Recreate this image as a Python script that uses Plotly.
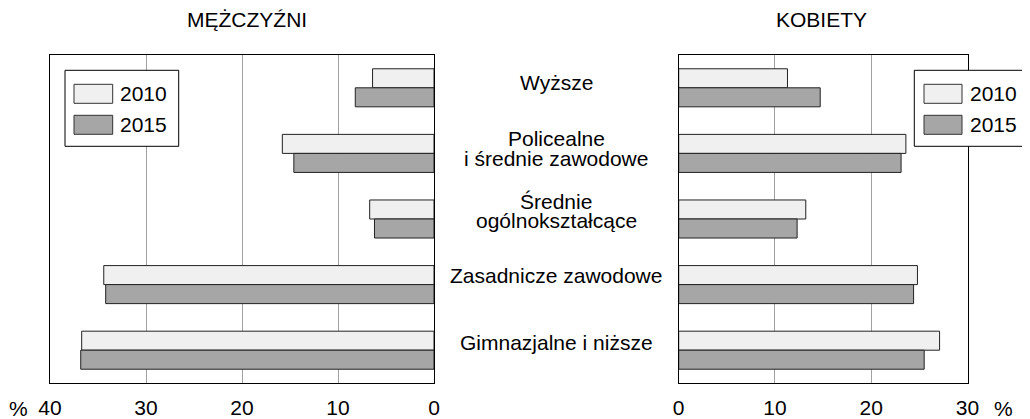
import plotly.graph_objects as go

categories = ["Wyższe", "Policealne<br>i średnie zawodowe", "Średnie<br>ogólnokształcące",
              "Zasadnicze zawodowe", "Gimnazjalne i niższe"]
cat_keys = ["Wyższe", "Policealne", "Średnie", "Zasadnicze", "Gimnazjalne"]
men_2010 = [6.4, 15.8, 6.7, 34.4, 36.7]
men_2015 = [8.2, 14.6, 6.2, 34.2, 36.8]
women_2010 = [11.3, 23.6, 13.2, 24.8, 27.1]
women_2015 = [14.7, 23.1, 12.3, 24.4, 25.5]
years = ["2010", "2015"]
men_ticks = [0, 10, 20, 30, 40]
women_ticks = [0, 10, 20, 30]

# label line offsets above category centre (px)
label_shifts = [[5.5], [14.7, -5.3], [17.5, -1.5], [9.5], [8.2]]

# page body has an 8px margin; lay out in page pixels and shift
OFF = 8
W, H = 1030 - OFF, 419 - OFF
FONT = "Liberation Sans, Arial, sans-serif"
FS = 21
C2010 = "#f0f0f0"
C2015 = "#a6a6a6"
EDGE = "#222222"

def px(x):
    return (x - OFF) / W

def py(y):
    return 1 - (y - OFF) / H

fig = go.Figure()
for vals, col, name, xa in [(men_2010, C2010, "2010", "x"), (men_2015, C2015, "2015", "x"),
                            (women_2010, C2010, "2010", "x2"), (women_2015, C2015, "2015", "x2")]:
    fig.add_trace(go.Bar(x=vals, y=cat_keys, orientation="h", name=name,
                         marker=dict(color=col, line=dict(color=EDGE, width=1)),
                         xaxis=xa, yaxis="y" if xa == "x" else "y2",
                         offsetgroup=name, showlegend=False))

axis_common = dict(showline=True, mirror=True, linecolor="#000000", linewidth=1,
                   showgrid=True, gridcolor="#a0a0a0", gridwidth=1, zeroline=False,
                   ticks="outside", ticklen=6, tickcolor="rgba(0,0,0,0)", automargin=False,
                   tickfont=dict(family=FONT, size=FS, color="#000000"), fixedrange=True)
yaxis_common = dict(domain=[py(383), py(55)], type="category", categoryorder="array",
                    categoryarray=cat_keys, range=[4.5, -0.5], showticklabels=False,
                    showgrid=False, showline=True, mirror=True, linecolor="#000000", linewidth=1,
                    zeroline=False, ticks="", automargin=False, fixedrange=True)
fig.update_layout(
    template="none",
    width=W, height=H, margin=dict(l=0, r=0, t=0, b=0, pad=0),
    paper_bgcolor="white", plot_bgcolor="white",
    barmode="group", bargap=0.42, bargroupgap=0,
    xaxis=dict(domain=[px(50), px(434)], range=[40, 0], tickvals=men_ticks, anchor="y", **axis_common),
    xaxis2=dict(domain=[px(678.7), px(967.5)], range=[0, 30], tickvals=women_ticks, anchor="y2", **axis_common),
    yaxis=dict(anchor="x", **yaxis_common),
    yaxis2=dict(anchor="x2", **yaxis_common),
    showlegend=False,
)

def text_ann(x, y, text, xanchor="center"):
    return dict(x=px(x), y=py(y), xref="paper", yref="paper", text=text, showarrow=False,
                xanchor=xanchor, yanchor="middle", borderpad=0,
                font=dict(family=FONT, size=FS, color="#000000"))

ann = []
for key, lab, shifts in zip(cat_keys, categories, label_shifts):
    for line, sh in zip(lab.split("<br>"), shifts):
        ann.append(dict(x=px(556), xref="paper", y=key, yref="y", text=line, showarrow=False,
                        xanchor="center", yanchor="middle", borderpad=0,
                        font=dict(family=FONT, size=FS, color="#000000"), yshift=sh))
ann.append(text_ann(247, 20, "MĘŻCZYŹNI"))
ann.append(text_ann(821, 20, "KOBIETY"))
ann.append(text_ann(8, 408, "%", xanchor="left"))
ann.append(text_ann(1003, 408, "%"))

shapes = []
def legend(x0, x1, sw0, sw1, tx):
    shapes.append(dict(type="rect", xref="paper", yref="paper", x0=px(x0), x1=px(x1),
                       y0=py(146.3), y1=py(70.3), line=dict(color="#000000", width=1),
                       fillcolor="white", layer="above"))
    for (ya, yb), col, name in [((84.3, 103.3), C2010, years[0]), ((115.3, 134.3), C2015, years[1])]:
        shapes.append(dict(type="rect", xref="paper", yref="paper", x0=px(sw0), x1=px(sw1),
                           y0=py(yb), y1=py(ya), line=dict(color="#333333", width=1),
                           fillcolor=col, layer="above"))
        ann.append(text_ann(tx, (ya + yb) / 2, name, xanchor="left"))

legend(65, 178.7, 74, 112.7, 119)
legend(914.3, 1028, 924, 962, 969)

fig.update_layout(annotations=ann, shapes=shapes)
fig.write_html("out.html")
